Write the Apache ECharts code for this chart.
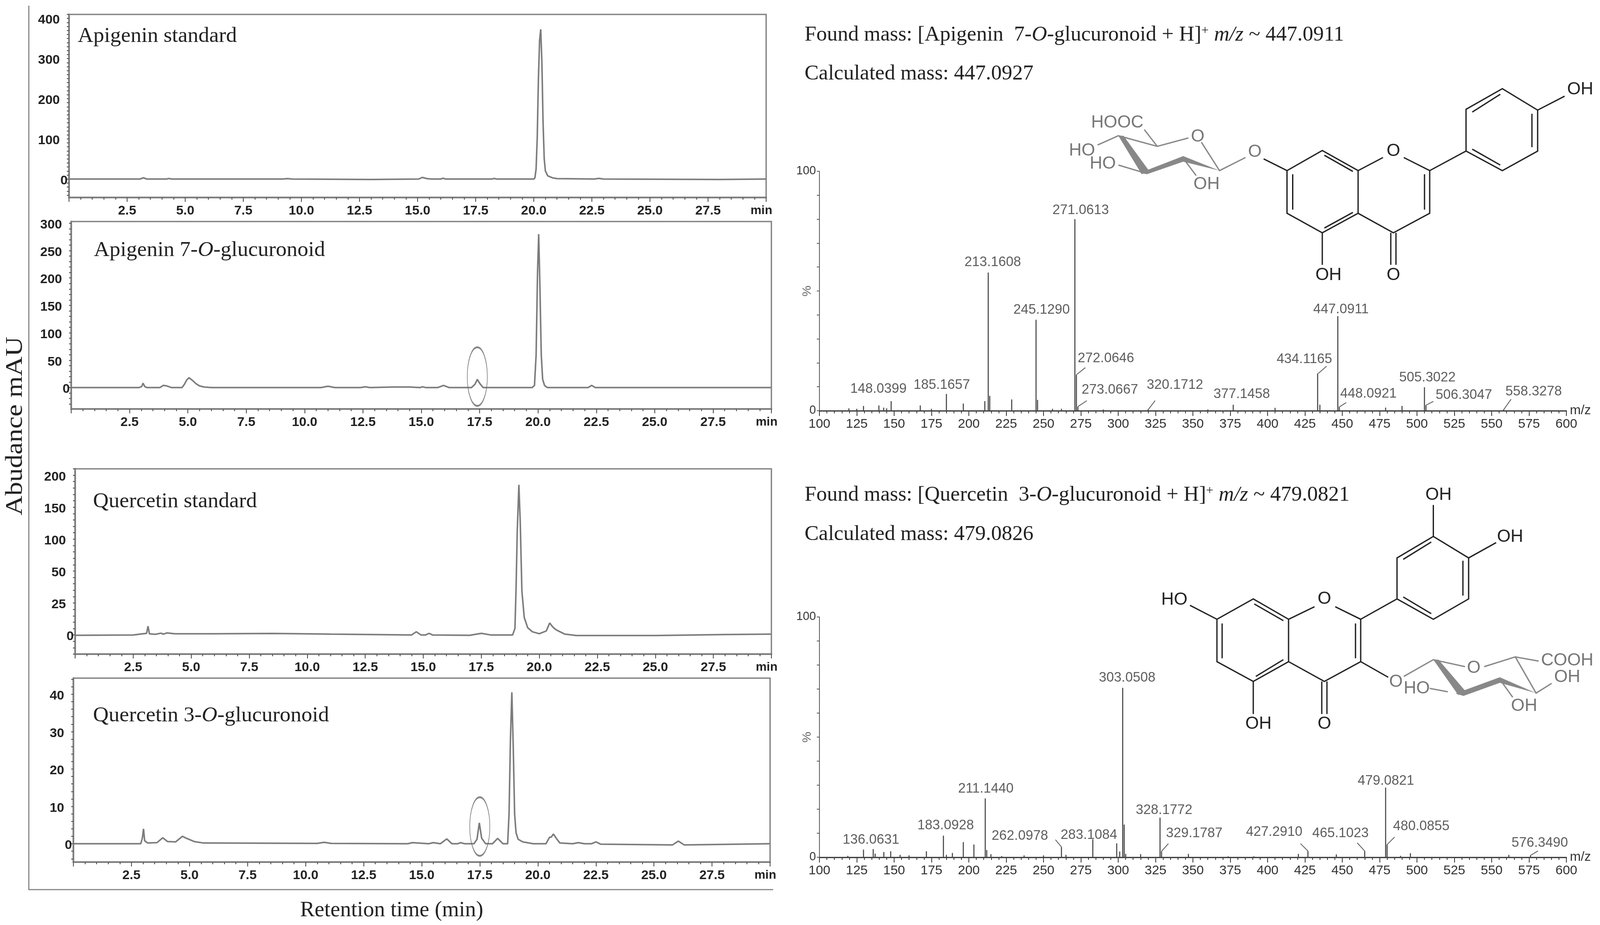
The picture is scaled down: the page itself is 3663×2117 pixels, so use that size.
<!DOCTYPE html>
<html>
<head>
<meta charset="utf-8">
<title>Chromatograms and mass spectra</title>
<script src="https://cdn.jsdelivr.net/npm/echarts@6/dist/echarts.min.js"></script>
<style>
  html, body { margin: 0; background: #fff; }
  #main { width: 3663px; height: 2117px; }
</style>
</head>
<body>
<div id="main"></div>
<script>
// chromatogram traces, retention time (min) / abundance (mAU)
const apStdTime = [0, 1.5, 3.05, 3.2, 3.35, 4.2, 4.3, 4.4, 9.2, 9.4, 9.6, 13, 15.05, 15.2, 15.4, 15.6, 16, 16.1, 16.2, 18.2, 18.3, 18.4, 20, 20.05, 20.1, 20.15, 20.2, 20.25, 20.3, 20.35, 20.4, 20.45, 20.5, 20.6, 20.8, 21, 22.6, 22.8, 23, 28, 30]
const apStdAbs = [0, 0, 0, 3, 0, 0, 1.5, 0, 0, 1, 0, -1, 0, 4, 1, 0, 0, 2, 0, 0, 1.5, 0, 0, 3, 25, 105, 250, 345, 373, 290, 140, 50, 20, 8, 3, 1, 0, 1.5, 0, -1, 0]

const apGlucTime = [0, 2.9, 3.02, 3.08, 3.15, 3.25, 3.8, 3.95, 4.1, 4.3, 4.75, 4.85, 4.95, 5.05, 5.2, 5.35, 5.5, 5.7, 6, 10.7, 11, 11.3, 12.4, 12.6, 12.8, 13.8, 14.5, 14.95, 15.05, 15.2, 15.7, 15.95, 16.2, 17.15, 17.3, 17.4, 17.5, 17.65, 19.75, 19.85, 19.92, 19.98, 20.03, 20.08, 20.14, 20.2, 20.28, 20.4, 22.15, 22.3, 22.45, 30]
const apGlucAbs = [0, 0, 2, 8, 2, 0, 0, 4, 3, 0, 0, 6, 14, 18, 13, 7, 3, 1, 0, 0, 2.5, 0, 0, 1.5, 0, 1, 1, 0, 1.5, 0, 0, 4, 0, 0, 6, 15, 8, 0, 0, 4, 60, 210, 280, 190, 60, 15, 4, 0, 0, 4, 0, 0]

const quStdTime = [0, 2.5, 3.08, 3.14, 3.2, 3.45, 3.7, 3.8, 3.95, 4.3, 6, 8.5, 11, 14.5, 14.7, 14.9, 15.1, 15.25, 15.4, 17, 17.5, 17.9, 18.85, 18.95, 19, 19.05, 19.12, 19.18, 19.25, 19.35, 19.5, 19.7, 20, 20.3, 20.45, 20.55, 20.65, 20.75, 21.1, 21.6, 25, 28, 30]
const quStdAbs = [-0.5, 0, 2, 11, 1.5, 0.8, 2.2, 1, 2.5, 1.5, 1.5, 1.8, 1, 0, 4, 0, 0, 2, 0, -0.5, 2, 0, 0, 8, 60, 130, 188, 140, 55, 22, 9, 4, 1.5, 5, 15, 11, 8, 6, 1, -0.8, -0.8, 0.5, 1]

const quGlucTime = [0, 2.9, 2.97, 3.02, 3.07, 3.2, 3.6, 3.85, 4.05, 4.4, 4.7, 4.85, 5.2, 5.6, 10.5, 10.8, 11.1, 14.4, 14.6, 15.3, 15.5, 15.8, 16.08, 16.3, 16.55, 16.67, 16.85, 17.25, 17.38, 17.48, 17.58, 17.75, 18.05, 18.27, 18.5, 18.7, 18.76, 18.82, 18.88, 18.94, 19, 19.06, 19.15, 19.35, 19.8, 20.35, 20.5, 20.58, 20.67, 20.8, 20.95, 21.5, 21.75, 22, 22.3, 22.5, 22.7, 25.8, 26.05, 26.3, 30]
const quGlucAbs = [0, 0, 1.5, 4, 0.8, 0.2, 0.3, 1.6, 0.6, 0.5, 2, 1.5, 0.6, 0.2, 0.1, 0.4, 0.1, 0, 0.3, 0, 0.3, 0, 1.3, 0, 0, 0.3, 0, 0, 1.2, 5.6, 1.5, 0, 0, 1.45, 0, 0, 8, 28, 40.5, 26, 8, 3, 1.2, 0.5, 0, 0, 1.7, 1.8, 2.6, 1.4, 0.2, 0, 0.3, 0, 0, 0.5, -0.1, -0.3, 0.7, -0.3, 0]

// y axis tick labels of the chromatograms
const apStdTicks = [0, 100, 200, 300, 400]
const apGlucTicks = [0, 50, 100, 150, 200, 250, 300]
// the printed scale of this panel is not linear (0, 25, 50, 100...), values above are in evenly spaced axis units
const quStdTicks = [0, 40, 80, 120, 160, 200]
const quStdTickText = ['0', '25', '50', '100', '150', '200']
const quGlucTicks = [0, 10, 20, 30, 40]

// mass spectra, m/z and relative intensity (%)
const apMz = [119.7, 125, 129.5, 139.8, 143, 145, 148, 167.5, 175, 185, 196.3, 210.7, 213, 214, 228.7, 245, 246, 256, 262, 271, 272, 273, 290, 320, 360, 377, 405, 433.5, 435, 447, 448, 479, 490, 505, 506, 558]
const apInt = [1, 0.8, 2, 2.2, 1.3, 1, 4, 2.2, 0.8, 7, 3, 4, 57.7, 6.2, 4.7, 38, 4.5, 0.8, 0.8, 80, 15, 1.7, 0.5, 0.6, 0.5, 2.5, 1.2, 15.6, 2.5, 39.5, 1.4, 1.3, 2, 9.8, 2.3, 0.5]
const quMz = [119, 129.5, 136, 137.3, 143.1, 147.7, 154, 160, 171.6, 183, 185, 189, 196.3, 203.4, 211, 212, 214.8, 222, 237, 250, 262, 265, 283, 299, 301, 303, 304, 305, 315, 328, 329, 347, 373.6, 390.8, 420.6, 427, 446, 465, 479, 480, 489, 495.6, 561.5, 576]
const quInt = [0.6, 3.2, 3.4, 1.5, 2.2, 2.5, 1, 0.8, 2.5, 9, 1, 1.8, 6.3, 5.3, 24.5, 3, 1.3, 0.5, 0.8, 0.8, 4.3, 1, 7.5, 5.8, 2.4, 70.5, 13.6, 1.4, 1.3, 16.5, 2.5, 1.4, 0.4, 0.4, 1.4, 2.6, 1.2, 2.6, 29, 5.3, 0.6, 1.7, 1, 0.8]

// peak annotations: text, then where the text sits in m/z and %
const apLabels = ['148.0399', '185.1657', '213.1608', '245.1290', '271.0613', '272.0646', '273.0667', '320.1712', '377.1458', '434.1165', '447.0911', '448.0921', '505.3022', '506.3047', '558.3278']
const apLabelMz = [139.5, 181.9, 216, 248.7, 274.9, 291.8, 294.4, 338, 382.7, 424.6, 449.1, 467.5, 507, 531.4, 578.1]
const apLabelInt = [9.1, 10.6, 62, 42, 83.6, 21.9, 8.6, 10.6, 6.8, 21.4, 42.3, 7, 13.8, 6.4, 8]
const quLabels = ['136.0631', '183.0928', '211.1440', '262.0978', '283.1084', '303.0508', '328.1772', '329.1787', '427.2910', '465.1023', '479.0821', '480.0855', '576.3490']
const quLabelMz = [134.5, 184.5, 211.4, 234.2, 280.4, 306, 330.7, 350.9, 404.4, 448.8, 479.2, 502.9, 582.2]
const quLabelInt = [7.2, 13.2, 28.5, 8.9, 9.1, 74.7, 19.6, 10, 10.4, 10, 31.8, 12.9, 6]

// leader lines from a peak to its label, [mz, %, mz, %]
const apLeaders = [[272, 15, 278, 18], [273, 1.7, 279, 4.2], [320, 0.4, 324.7, 4.2], [434, 15.6, 439.5, 18.6], [447.6, 1.4, 452.6, 3.4], [506, 2.3, 511, 3.9], [558, 0.4, 563, 4.8]]
const quLeaders = [[262, 4.3, 258, 7.3], [329, 2.5, 333.6, 5.7], [427, 2.6, 422, 5.7], [465, 2.6, 460, 6], [480, 5.3, 485, 8.4], [576, 0.8, 581, 2.6]]

const ringMarks = [[17.4, 20], [17.5, 4.6]]

const axisFont = 'Liberation Sans'
const serif = 'Liberation Serif'
const lineGrey = '#7c7c7c'
const frameGrey = '#808080'

const zip = (a, b) => a.map((v, i) => [v, b[i]])

function tickList(min, max, step) {
  let out = []
  for (let v = Math.ceil(min / step) * step; v <= max; v += step) out.push(v)
  return out
}

const grids = []
const xAxes = []
const yAxes = []
const series = []

function addChrom(box, yMin, yMax, yStep, ticks, tickText, time, abs, ring) {
  const idx = grids.length
  grids.push({
    left: box[0], top: box[1], width: box[2], height: box[3],
    show: true, borderColor: frameGrey, borderWidth: 3, backgroundColor: 'transparent'
  })
  xAxes.push({
    gridIndex: idx, type: 'value', min: 0, max: 30, interval: 2.5,
    name: 'min', nameLocation: 'end', nameGap: 14,
    nameTextStyle: { fontFamily: axisFont, fontWeight: 'bold', fontSize: 28, color: '#222', align: 'right', verticalAlign: 'top', padding: [16, 0, 0, 0] },
    axisLine: { onZero: false, lineStyle: { color: frameGrey, width: 4 } },
    axisTick: { length: 10, lineStyle: { color: '#555', width: 2 } },
    minorTick: { show: true, splitNumber: 5, length: 5, lineStyle: { color: '#555', width: 2 } },
    splitLine: { show: false },
    axisLabel: {
      showMinLabel: false, showMaxLabel: false,
      margin: 16, fontFamily: axisFont, fontWeight: 'bold', fontSize: 30, color: '#222',
      formatter: v => v.toFixed(1)
    }
  })
  yAxes.push({
    gridIndex: idx, type: 'value', min: yMin, max: yMax,
    axisLine: { onZero: false, lineStyle: { color: frameGrey, width: 4 } },
    axisTick: { length: 5, customValues: tickList(yMin, yMax, yStep), lineStyle: { color: '#555', width: 2 } },
    splitLine: { show: false },
    axisLabel: {
      margin: 3, fontFamily: axisFont, fontWeight: 'bold', fontSize: 30, color: '#222',
      customValues: ticks,
      formatter: v => {
        const s = tickText ? tickText[ticks.indexOf(v)] : String(v)
        return v === 0 ? '{z|' + s + '}' : '{n|' + s + '}'
      },
      rich: {
        z: { fontFamily: axisFont, fontWeight: 'bold', fontSize: 30, color: '#222', padding: [8, 0, 0, 0] },
        n: { fontFamily: axisFont, fontWeight: 'bold', fontSize: 30, color: '#222', padding: [8, 18, 0, 0] }
      }
    }
  })
  series.push({
    type: 'line', xAxisIndex: idx, yAxisIndex: idx, data: zip(time, abs),
    showSymbol: false, smooth: false, sampling: false,
    lineStyle: { color: lineGrey, width: 3.5 }, z: 3
  })
  if (ring) {
    series.push({
      type: 'scatter', xAxisIndex: idx, yAxisIndex: idx, data: [ring],
      symbol: 'path://M50,0 C77.6,0 100,22.4 100,50 C100,77.6 77.6,100 50,100 C22.4,100 0,77.6 0,50 C0,22.4 22.4,0 50,0 Z',
      symbolSize: [46, 134], symbolKeepAspect: false,
      itemStyle: { color: 'transparent', borderColor: '#666', borderWidth: 2.5 }, z: 4
    })
  }
}

function addSpectrum(box, mz, intensity, labels, labelMz, labelInt, leaders) {
  const idx = grids.length
  grids.push({ left: box[0], top: box[1], width: box[2], height: box[3] })
  xAxes.push({
    gridIndex: idx, type: 'value', min: 100, max: 600, interval: 25,
    name: 'm/z', nameLocation: 'end', nameGap: 8,
    nameTextStyle: { fontFamily: axisFont, fontSize: 30, color: '#333', padding: [8, 0, 0, 0] },
    axisLine: { onZero: false, lineStyle: { color: '#444', width: 3 } },
    axisTick: { length: 12, lineStyle: { color: '#444', width: 2 } },
    minorTick: { show: true, splitNumber: 5, length: 6, lineStyle: { color: '#444', width: 2 } },
    splitLine: { show: false },
    axisLabel: { margin: 16, fontFamily: axisFont, fontSize: 30, color: '#333' }
  })
  yAxes.push({
    gridIndex: idx, type: 'value', min: 0, max: 100, interval: 10,
    name: '%', nameLocation: 'middle', nameGap: 14, nameRotate: 90, nameMoveOverlap: false,
    nameTextStyle: { fontFamily: axisFont, fontSize: 28, color: '#666' },
    axisLine: { onZero: false, show: true, lineStyle: { color: '#666', width: 2 } },
    axisTick: { show: true, length: 6, lineStyle: { color: '#666', width: 2 } },
    splitLine: { show: false },
    axisLabel: {
      margin: 8, fontFamily: axisFont, fontSize: 27, color: '#333', padding: [4, 0, 0, 0],
      formatter: v => (v === 0 || v === 100 ? String(v) : '')
    }
  })
  series.push({
    type: 'bar', xAxisIndex: idx, yAxisIndex: idx, data: zip(mz, intensity),
    barWidth: 2.5, itemStyle: { color: '#4a4a4a' }, z: 3
  })
  const leaderPts = []
  leaders.forEach(l => {
    leaderPts.push([l[0], l[1]], [l[2], l[3]], ['-', '-'])
  })
  series.push({
    type: 'line', xAxisIndex: idx, yAxisIndex: idx, data: leaderPts,
    showSymbol: false, connectNulls: false,
    lineStyle: { color: '#666', width: 2 }, z: 3
  })
  series.push({
    type: 'scatter', xAxisIndex: idx, yAxisIndex: idx, symbolSize: 0,
    data: labels.map((t, i) => ({ value: [labelMz[i], labelInt[i]], name: t })),
    label: {
      show: true, position: 'inside', formatter: '{b}',
      fontFamily: axisFont, fontSize: 31, color: '#333'
    },
    z: 5
  })
}

addChrom([158, 33, 1596, 419], -46, 410, 10, apStdTicks, null, apStdTime, apStdAbs)
addChrom([163, 507, 1603, 429], -39, 303, 10, apGlucTicks, null, apGlucTime, apGlucAbs, ringMarks[0])
addChrom([172, 1073, 1594, 424], -24, 208, 8, quStdTicks, quStdTickText, quStdTime, quStdAbs)
addChrom([168, 1552, 1595, 421], -4.9, 44.3, 2, quGlucTicks, null, quGlucTime, quGlucAbs, ringMarks[1])
addSpectrum([1876, 392, 1710, 548], apMz, apInt, apLabels, apLabelMz, apLabelInt, apLeaders)
addSpectrum([1876, 1412, 1710, 550], quMz, quInt, quLabels, quLabelMz, quLabelInt, quLeaders)

// ---- captions ----
const serifRich = size => ({
  r: { fontFamily: serif, fontSize: size, fill: '#222' },
  i: { fontFamily: serif, fontSize: size, fontStyle: 'italic', fill: '#222' },
  s: { fontFamily: serif, fontSize: size * 0.62, fill: '#222', verticalAlign: 'top' }
})
const caption = (x, y, text, size) => ({
  type: 'text', x: x, y: y, z: 10,
  style: { text: text, rich: serifRich(size), verticalAlign: 'middle', align: 'left' }
})

const graphics = [
  caption(178, 83, '{r|Apigenin standard}', 49.5),
  caption(215, 573, '{r|Apigenin 7-}{i|O}{r|-glucuronoid}', 49.5),
  caption(213, 1148, '{r|Quercetin standard}', 49.5),
  caption(213, 1638, '{r|Quercetin 3-}{i|O}{r|-glucuronoid}', 49.5),
  caption(1842, 80, '{r|Found mass: [Apigenin  7-}{i|O}{r|-glucuronoid + H]}{s|+}{r| }{i|m/z}{r| ~ 447.0911}', 48.5),
  caption(1842, 169, '{r|Calculated mass: 447.0927}', 48.5),
  caption(1842, 1133, '{r|Found mass: [Quercetin  3-}{i|O}{r|-glucuronoid + H]}{s|+}{r| }{i|m/z}{r| ~ 479.0821}', 48.5),
  caption(1842, 1223, '{r|Calculated mass: 479.0826}', 48.5),
  caption(687, 2084, '{r|Retention time (min)}', 50),
  {
    type: 'text', x: 36, y: 975, rotation: Math.PI / 2, scaleX: 1.16, z: 10,
    style: { text: 'Abudance mAU', fontFamily: serif, fontSize: 54, fill: '#222', align: 'center', verticalAlign: 'middle' }
  },
  { type: 'polyline', z: 1, shape: { points: [[66, 13], [66, 2036], [1770, 2036]] }, style: { stroke: frameGrey, lineWidth: 2.5, fill: 'none' } }
]

// ---- structure drawings, traced in their own picture coordinates ----
function drawStructure(originY, bonds, wedges, atoms, grey) {
  const px = p => [1800 + p[0] * 1.188, originY + p[1] * 0.638]
  bonds.forEach(b => {
    const pts = []
    for (let i = 0; i < b.length; i += 2) pts.push(px([b[i], b[i + 1]]))
    graphics.push({ type: 'polyline', z: 6, shape: { points: pts }, style: { stroke: '#222', lineWidth: 3, fill: 'none' } })
  })
  grey.forEach(b => {
    const pts = []
    for (let i = 0; i < b.length; i += 2) pts.push(px([b[i], b[i + 1]]))
    graphics.push({ type: 'polyline', z: 6, shape: { points: pts }, style: { stroke: '#888', lineWidth: 3, fill: 'none' } })
  })
  wedges.forEach(w => {
    const pts = []
    for (let i = 0; i < w.length; i += 2) pts.push(px([w[i], w[i + 1]]))
    graphics.push({ type: 'polygon', z: 6, shape: { points: pts }, style: { fill: '#888' } })
  })
  atoms.forEach(a => {
    const p = px([a[0], a[1]])
    graphics.push({
      type: 'text', x: p[0], y: p[1], z: 7,
      style: { text: a[2], fontFamily: axisFont, fontSize: 40, fill: a[3] || '#222', align: 'center', verticalAlign: 'middle' }
    })
  })
}

drawStructure(0,
  [
    [965, 612, 1033, 540, 1102, 612, 1102, 765, 1033, 835, 965, 765, 965, 612],
    [1037, 557, 1092, 615], [1092, 762, 1037, 818], [976, 625, 976, 752],
    [1102, 612, 1150, 565], [1190, 565, 1240, 612, 1240, 765, 1170, 835, 1102, 765],
    [1230, 625, 1230, 752], [1165, 835, 1165, 950], [1175, 835, 1175, 950], [1033, 835, 1033, 950],
    [1240, 612, 1310, 542, 1380, 612, 1448, 542, 1448, 395, 1380, 318, 1310, 392, 1310, 542],
    [1322, 535, 1376, 592], [1437, 528, 1437, 408], [1376, 338, 1322, 402],
    [1448, 395, 1500, 345], [965, 612, 920, 570]
  ],
  [
    [640, 487, 650, 487, 700, 615, 685, 625],
    [682, 620, 765, 560, 835, 612, 765, 580, 695, 625]
  ],
  [
    [1170, 543, 'O'], [1170, 988, 'O'], [1045, 988, 'OH'], [1530, 322, 'OH'],
    [903, 545, 'O', '#777'], [793, 490, 'O', '#777'], [638, 440, 'HOOC', '#777'],
    [570, 540, 'HO', '#777'], [610, 587, 'HO', '#777'], [810, 662, 'OH', '#777']
  ],
  [
    [885, 565, 835, 612, 800, 510], [775, 495, 715, 525, 640, 487, 600, 520],
    [715, 525, 690, 465], [690, 620, 640, 592], [765, 568, 790, 630]
  ]
)

drawStructure(1060,
  [
    [830, 560, 900, 487, 968, 560, 968, 712, 900, 783, 830, 712, 830, 560],
    [902, 505, 958, 565], [958, 705, 905, 765], [840, 575, 840, 700],
    [968, 560, 1018, 515], [1058, 515, 1107, 560, 1107, 712, 1037, 783, 968, 712],
    [1097, 575, 1097, 700], [1032, 783, 1032, 900], [1042, 783, 1042, 900], [900, 783, 900, 900],
    [830, 560, 778, 510],
    [1107, 560, 1177, 487, 1247, 560, 1315, 487, 1315, 340, 1247, 263, 1177, 340, 1177, 487],
    [1189, 480, 1243, 540], [1304, 475, 1304, 350], [1243, 283, 1189, 345],
    [1247, 263, 1247, 150], [1315, 340, 1368, 285], [1107, 712, 1160, 768]
  ],
  [
    [1247, 705, 1257, 705, 1310, 820, 1295, 832],
    [1290, 826, 1375, 768, 1445, 825, 1375, 788, 1305, 835]
  ],
  [
    [1037, 487, 'O'], [1037, 935, 'O'], [910, 935, 'OH'], [748, 490, 'HO'], [1257, 115, 'OH'], [1395, 265, 'OH'],
    [1175, 785, 'O', '#777'], [1325, 735, 'O', '#777'], [1505, 708, 'COOH', '#777'], [1505, 768, 'OH', '#777'],
    [1422, 872, 'OH', '#777'], [1215, 808, 'HO', '#777']
  ],
  [
    [1190, 765, 1247, 705, 1308, 730], [1345, 730, 1405, 695, 1445, 825, 1475, 790],
    [1405, 695, 1450, 710], [1375, 775, 1400, 840], [1275, 820, 1240, 808]
  ]
)

const myChart = echarts.init(document.getElementById('main'))
myChart.setOption({
  animation: false,
  backgroundColor: '#fff',
  grid: grids,
  xAxis: xAxes,
  yAxis: yAxes,
  series: series,
  graphic: graphics
})
</script>
</body>
</html>
